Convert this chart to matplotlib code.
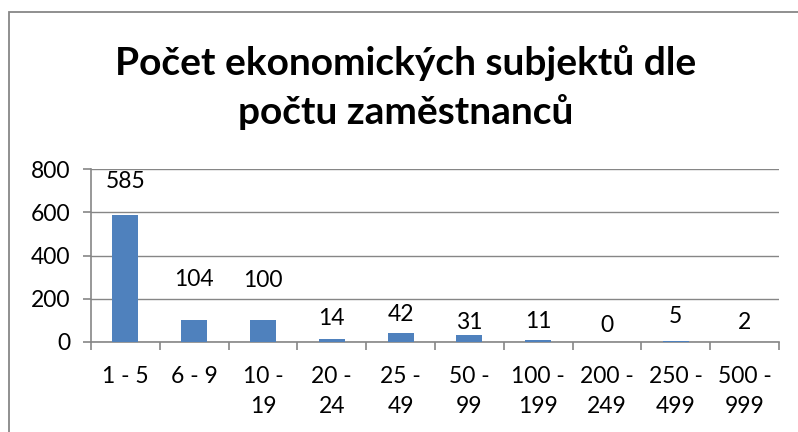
import matplotlib.pyplot as plt
from matplotlib.patches import Rectangle

categories = ['1 - 5', '6 - 9', '10 -\n19', '20 -\n24', '25 -\n49', '50 -\n99',
              '100 -\n199', '200 -\n249', '250 -\n499', '500 -\n999']
counts = [585, 104, 100, 14, 42, 31, 11, 0, 5, 2]
# label lift above bar top, in pixels (labels were moved by hand in the original)
label_lift = [34, 40, 40, 20, 18, 13, 18, 17, 24, 19]

plt.rcParams['font.family'] = ['Lato', 'DejaVu Sans']

fig = plt.figure(figsize=(7.98, 4.32), dpi=100)
fig.patches.append(Rectangle((9 / 798, -0.05), 1.1, 1.05 - 12 / 432,
                             transform=fig.transFigure, fill=False,
                             edgecolor='#878787', linewidth=1.3))

ax = fig.add_axes([91 / 798, 1 - 342 / 432, (779 - 91) / 798, (342 - 169) / 432])
x = range(len(categories))
ax.bar(x, counts, width=0.38, color='#4F81BD', zorder=3)
ax.set_xlim(-0.5, len(categories) - 0.5)
ax.set_ylim(0, 800)
ax.set_yticks([0, 200, 400, 600, 800])
ax.yaxis.grid(True, color='#868686', linewidth=1)
ax.set_axisbelow(True)

for s in ['top', 'right']:
    ax.spines[s].set_visible(False)
for s in ['left', 'bottom']:
    ax.spines[s].set_color('#868686')
    ax.spines[s].set_linewidth(1.2)

ax.set_xticks([i + 0.5 for i in range(-1, len(categories))], minor=False)
ax.set_xticklabels([])
ax.set_xticks(list(x), minor=True)
ax.set_xticklabels(categories, minor=True, fontsize=16.5, linespacing=1.55, va='top')
ax.tick_params(axis='x', which='major', length=6, color='#868686', width=1.2)
ax.tick_params(axis='x', which='minor', length=0, pad=17)
ax.tick_params(axis='y', length=6, color='#868686', width=1.2, labelsize=16.5, pad=9)

for i, (v, lift) in enumerate(zip(counts, label_lift)):
    ax.annotate(str(v), (i, v), xytext=(0, lift * 0.72), textcoords='offset points',
                ha='center', va='center', fontsize=16.5)

fig.text(0.508, 1 - 63 / 432, 'Počet ekonomických subjektů dle', ha='center', va='center',
         fontsize=28, fontweight='bold')
fig.text(0.508, 1 - 112 / 432, 'počtu zaměstnanců', ha='center', va='center',
         fontsize=28, fontweight='bold')

fig.savefig('out.png', dpi=100)
